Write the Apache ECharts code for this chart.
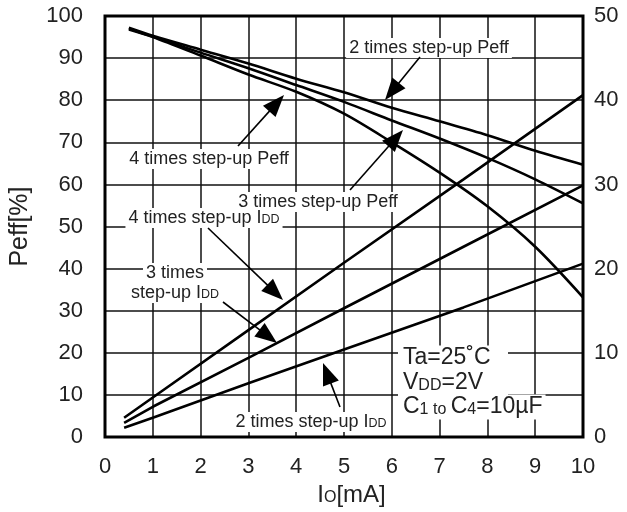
<!DOCTYPE html>
<html>
<head>
<meta charset="utf-8">
<script src="https://cdn.jsdelivr.net/npm/echarts@6/dist/echarts.min.js"></script>
<style>
html,body{margin:0;padding:0;background:#fff;}
#chart{width:627px;height:512px;}
</style>
</head>
<body>
<div id="chart"></div>
<script>
// ---- data ----
const peffX  = [0.5, 1, 2, 3, 4, 5, 6, 7, 8, 9, 10];
const peff2x = [97.2, 95.3, 92.0, 88.7, 85.1, 81.9, 78.2, 75.0, 71.7, 68.0, 64.7];
const peff3x = [97.0, 95.1, 91.3, 87.6, 83.6, 79.6, 75.2, 70.9, 66.3, 61.2, 55.5];
const peff4x = [96.8, 95.0, 90.6, 86.1, 82.0, 76.8, 70.0, 62.8, 54.8, 45.2, 33.2];

const iddX  = [0.4, 1, 3, 5, 7.5, 10];
const idd4x = [2.3, 4.7, 12.7, 20.7, 30.6, 40.6];
const idd3x = [1.7, 3.6, 9.4, 15.3, 22.6, 29.9];
const idd2x = [1.1, 2.3, 6.4, 10.4, 15.4, 20.6];

const xTicks = [0,1,2,3,4,5,6,7,8,9,10];
const leftTicks = [0,10,20,30,40,50,60,70,80,90,100];
const rightTicks = [0,10,20,30,40,50];

const FONT = 'Liberation Sans, Arial, Helvetica, sans-serif';

function pairs(xs, ys){ return xs.map((x,i)=>[x, ys[i]]); }

const chart = echarts.init(document.getElementById('chart'), null, {renderer:'canvas'});

const lineStyle = {color:'#000', width:2.6};
function mkSeries(name, xs, ys, yIdx, smooth){
  return {name, type:'line', xAxisIndex:0, yAxisIndex:yIdx, data:pairs(xs,ys),
    showSymbol:false, smooth:smooth, lineStyle:lineStyle, itemStyle:{color:'#000'}, z:3, silent:true, animation:false};
}

const option = {
  animation:false,
  backgroundColor:'#fff',
  grid:{left:104, right:44, top:16, bottom:71, show:true, borderColor:'#000', borderWidth:3, backgroundColor:'transparent', z:4},
  xAxis:{type:'value', min:0, max:10, interval:1,
    name:'I{s|O}[mA]', nameLocation:'middle', nameGap:44,
    nameTextStyle:{fontFamily:FONT, fontSize:24, color:'#222', padding:[0,0,0,15],
      rich:{s:{fontFamily:FONT, fontSize:16, color:'#222', verticalAlign:'bottom', padding:[0,0,1,0]}}},
    axisLine:{show:false}, axisTick:{show:false},
    axisLabel:{fontFamily:FONT, fontSize:22, color:'#222', margin:19,
      formatter:v=> xTicks.includes(v) ? String(v) : ''},
    splitLine:{show:true, lineStyle:{color:'#111', width:1.5}}},
  yAxis:[
    {type:'value', min:0, max:100, interval:10, position:'left',
      name:'Peff[%]', nameLocation:'middle', nameGap:72, nameRotate:90,
      nameTextStyle:{fontFamily:FONT, fontSize:25, color:'#222'},
      axisLine:{show:false}, axisTick:{show:false},
      axisLabel:{fontFamily:FONT, fontSize:22, color:'#222', margin:22,
        formatter:v=> leftTicks.includes(v) ? String(v) : ''},
      splitLine:{show:true, lineStyle:{color:'#111', width:1.5}}},
    {type:'value', min:0, max:50, interval:10, position:'right',
      axisLine:{show:false}, axisTick:{show:false},
      axisLabel:{fontFamily:FONT, fontSize:22, color:'#222', margin:11,
        formatter:v=> rightTicks.includes(v) ? String(v) : ''},
      splitLine:{show:false}}
  ],
  series:[
    mkSeries('2 times step-up Peff', peffX, peff2x, 0, 0.3),
    mkSeries('3 times step-up Peff', peffX, peff3x, 0, 0.3),
    mkSeries('4 times step-up Peff', peffX, peff4x, 0, 0.3),
    mkSeries('4 times step-up IDD', iddX, idd4x, 1, false),
    mkSeries('3 times step-up IDD', iddX, idd3x, 1, false),
    mkSeries('2 times step-up IDD', iddX, idd2x, 1, false)
  ]
};
chart.setOption(option);

// ---- annotations (labels + arrows), pixel placement ----
const subRich = {s:{fontFamily:FONT, fontSize:12.5, fill:'#222', verticalAlign:'bottom', padding:[0,0,1,0]}};
function label(text, cx, cy, size){
  return {type:'text', z:20, x:cx, y:cy, silent:true,
    style:{text:text, fontFamily:FONT, fontSize:size||18, fill:'#222',
      align:'center', verticalAlign:'middle', backgroundColor:'#fff', padding:[1,3,1,3], rich:subRich}};
}
function arrow(x1,y1,x2,y2){
  const dx=x2-x1, dy=y2-y1, L=Math.hypot(dx,dy), ux=dx/L, uy=dy/L;
  const hl=22, hw=8.5;
  const bx=x2-ux*hl, by=y2-uy*hl;
  return [
    {type:'line', z:21, silent:true, shape:{x1:x1,y1:y1,x2:bx+ux*2,y2:by+uy*2}, style:{stroke:'#000', lineWidth:1.6}},
    {type:'polygon', z:21, silent:true, shape:{points:[[x2,y2],[bx-uy*hw,by+ux*hw],[bx+uy*hw,by-ux*hw]]}, style:{fill:'#000'}}
  ];
}
const taRich = {s:{fontFamily:FONT, fontSize:16, fill:'#222', verticalAlign:'bottom', padding:[0,0,1,0]}};
function taLine(text, x, cy){
  return {type:'text', z:20, x:x, y:cy, silent:true,
    style:{text:text, fontFamily:FONT, fontSize:23, fill:'#222', align:'left', verticalAlign:'middle',
      backgroundColor:'#fff', padding:[1,3,1,2], rich:taRich}};
}

const graphics = [].concat(
  [label('2 times step-up Peff', 429, 48)],
  arrow(420,57,385,100),
  [label('3 times step-up Peff', 318, 202)],
  arrow(350,190,403,130),
  [label('4 times step-up Peff', 209, 159)],
  arrow(238,146,284,95),
  [label('4 times step-up I{s|DD}', 204, 218)],
  arrow(208,228,283,300),
  [label('3 times', 175, 273), label('step-up I{s|DD}', 175, 293)],
  arrow(223,302,277,343),
  [label('2 times step-up I{s|DD}', 311, 422)],
  arrow(340,407,323,363),
  [{type:'rect', z:19, silent:true, shape:{x:398, y:346, width:110, height:72}, style:{fill:'#fff'}}],
  [taLine('Ta=25˚C', 401, 358), taLine('V{s|DD}=2V', 401, 383), taLine('C{s|1 to }C{s|4}=10µF', 401, 407)]
);
chart.setOption({graphic:graphics});
</script>
</body>
</html>
